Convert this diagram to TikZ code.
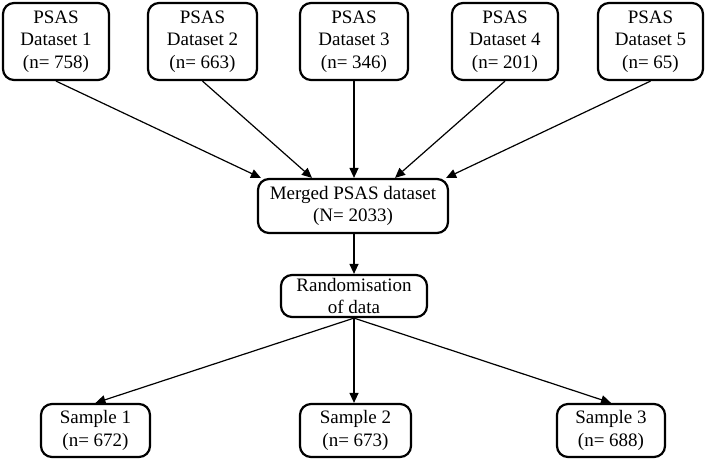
\documentclass[tikz,border=0pt]{standalone}
\usepackage{fontspec}
\setmainfont{Liberation Serif}
\usetikzlibrary{arrows.meta}
\begin{document}
\begin{tikzpicture}[x=1pt,y=-1pt,
  box/.style={draw=black,line width=2.2pt,rounded corners=11pt,align=center,
    inner sep=0pt,font=\fontsize{19}{22.5}\selectfont},
  conn/.style={line width=1.2pt,-{Triangle[length=10pt,width=9pt]}}]
\useasboundingbox (0,0) rectangle (708,459);
\node[box,minimum width=106pt,minimum height=77pt] (d1) at (56,41.5) {PSAS\\Dataset 1\\(n= 758)};
\node[box,minimum width=109pt,minimum height=77pt] (d2) at (202.5,41.5) {PSAS\\Dataset 2\\(n= 663)};
\node[box,minimum width=108pt,minimum height=77pt] (d3) at (354,41.5) {PSAS\\Dataset 3\\(n= 346)};
\node[box,minimum width=106pt,minimum height=77pt] (d4) at (505,41.5) {PSAS\\Dataset 4\\(n= 201)};
\node[box,minimum width=105pt,minimum height=77pt] (d5) at (650.5,41.5) {PSAS\\Dataset 5\\(n= 65)};
\node[box,minimum width=190pt,minimum height=54pt] (m) at (353,206) {Merged PSAS dataset\\(N= 2033)};
\node[box,minimum width=146pt,minimum height=42pt] (r) at (354,296) {Randomisation\\of data};
\node[box,minimum width=109pt,minimum height=53pt] (s1) at (95.5,430.5) {Sample 1\\(n= 672)};
\node[box,minimum width=111pt,minimum height=53pt] (s2) at (355.5,430.5) {Sample 2\\(n= 673)};
\node[box,minimum width=108pt,minimum height=53pt] (s3) at (611,430.5) {Sample 3\\(n= 688)};
\draw[conn] (d1.south) -- ([xshift=4pt]m.north west);
\draw[conn] (d2.south) -- ([xshift=-41pt]m.north);
\draw[conn] (d3.south) -- (d3.south |- m.north);
\draw[conn] (d4.south) -- ([xshift=42pt]m.north);
\draw[conn] (d5.south) -- ([xshift=-3pt]m.north east);
\draw[conn] (m.south -| r.north) -- (r.north);
\draw[conn] (r.south) -- (s1.north);
\draw[conn] (r.south) -- (r.south |- s2.north);
\draw[conn] (r.south) -- (s3.north);
\end{tikzpicture}
\end{document}
